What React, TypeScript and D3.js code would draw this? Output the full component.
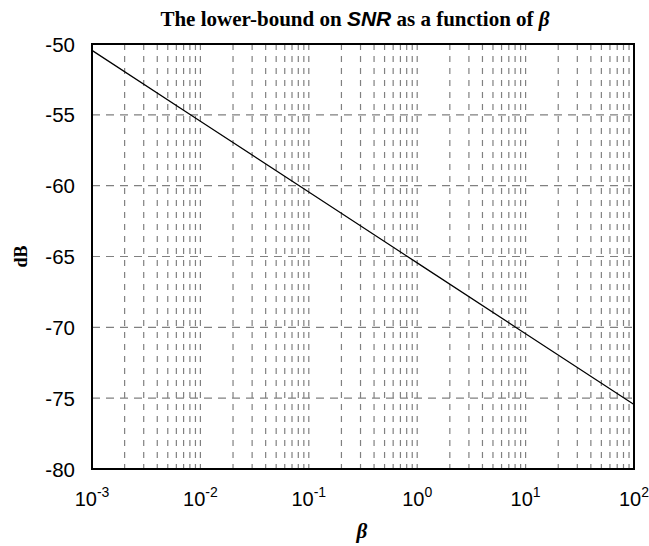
import React, { useEffect, useRef } from "react";
import * as d3 from "d3";

const betaValues = [1e-3, 1e-2, 1e-1, 1, 10, 100];
const snrValues = [-50.45, -55.45, -60.45, -65.45, -70.45, -75.45];
const yTicks = [-80, -75, -70, -65, -60, -55, -50];
const xExponents = [-3, -2, -1, 0, 1, 2];

export default function App() {
  const ref = useRef<SVGSVGElement>(null);

  useEffect(() => {
    const svg = d3.select(ref.current);
    svg.selectAll("*").remove();

    const margin = { top: 44, right: 15, bottom: 77, left: 92 };
    const width = 649 - margin.left - margin.right;
    const height = 546 - margin.top - margin.bottom;

    const g = svg.append("g").attr("transform", `translate(${margin.left},${margin.top})`);

    const x = d3.scaleLog().domain([1e-3, 1e2]).range([0, width]);
    const y = d3.scaleLinear().domain([-80, -50]).range([height, 0]);

    // vertical grid at every log tick
    const gridX: number[] = [];
    xExponents.slice(0, -1).forEach((e) => {
      for (let k = 1; k <= 9; k++) gridX.push(k * Math.pow(10, e));
    });
    g.selectAll("line.vgrid")
      .data(gridX.filter((v) => v > 1e-3))
      .enter()
      .append("line")
      .attr("x1", (d) => x(d))
      .attr("x2", (d) => x(d))
      .attr("y1", 0)
      .attr("y2", height)
      .attr("stroke", "#808080")
      .attr("stroke-width", 1.2)
      .attr("stroke-dasharray", "6,6");

    g.selectAll("line.hgrid")
      .data(yTicks.slice(1, -1))
      .enter()
      .append("line")
      .attr("x1", 0)
      .attr("x2", width)
      .attr("y1", (d) => y(d))
      .attr("y2", (d) => y(d))
      .attr("stroke", "#808080")
      .attr("stroke-width", 1.2)
      .attr("stroke-dasharray", "8,6");

    // the bound line
    const line = d3
      .line<number>()
      .x((d, i) => x(betaValues[i]))
      .y((d) => y(d));
    g.append("path")
      .datum(snrValues)
      .attr("d", line)
      .attr("fill", "none")
      .attr("stroke", "#000")
      .attr("stroke-width", 1.2);

    // frame
    g.append("rect")
      .attr("width", width)
      .attr("height", height)
      .attr("fill", "none")
      .attr("stroke", "#000")
      .attr("stroke-width", 2);

    // y tick labels
    g.selectAll("text.ytick")
      .data(yTicks)
      .enter()
      .append("text")
      .attr("x", -17)
      .attr("y", (d) => y(d) + 7.5)
      .attr("text-anchor", "end")
      .style("font-family", "Liberation Sans, Arial, sans-serif")
      .style("font-size", "20.5px")
      .text((d) => d);

    // x tick labels
    const xt = g
      .selectAll("text.xtick")
      .data(xExponents)
      .enter()
      .append("text")
      .attr("x", (d) => x(Math.pow(10, d)))
      .attr("y", height + 37)
      .attr("text-anchor", "middle")
      .style("font-family", "Liberation Sans, Arial, sans-serif")
      .style("font-size", "20px");
    xt.append("tspan").text("10");
    xt.append("tspan")
      .attr("dy", -9)
      .style("font-size", "14px")
      .text((d) => d);

    // title
    const title = svg
      .append("text")
      .attr("x", 355)
      .attr("y", 26)
      .attr("text-anchor", "middle")
      .style("font-family", "Liberation Serif, Times New Roman, serif")
      .style("font-weight", "bold")
      .style("font-size", "21px");
    title.append("tspan").text("The lower-bound on ");
    title
      .append("tspan")
      .style("font-family", "Liberation Sans, Arial, sans-serif")
      .style("font-style", "italic")
      .text("SNR");
    title.append("tspan").text(" as a function of ");
    title.append("tspan").style("font-style", "italic").text("β");

    // axis labels
    svg
      .append("text")
      .attr("x", 362)
      .attr("y", 538)
      .attr("text-anchor", "middle")
      .style("font-family", "Liberation Serif, Times New Roman, serif")
      .style("font-weight", "bold")
      .style("font-style", "italic")
      .style("font-size", "21px")
      .text("β");

    svg
      .append("text")
      .attr("transform", `translate(27,${margin.top + height / 2}) rotate(-90)`)
      .attr("text-anchor", "middle")
      .style("font-family", "Liberation Serif, Times New Roman, serif")
      .style("font-weight", "bold")
      .style("font-size", "18px")
      .text("dB");
  }, []);

  return (
    <svg
      ref={ref}
      width={649}
      height={546}
      style={{ position: "absolute", left: 0, top: 0, background: "#fff" }}
    />
  );
}
